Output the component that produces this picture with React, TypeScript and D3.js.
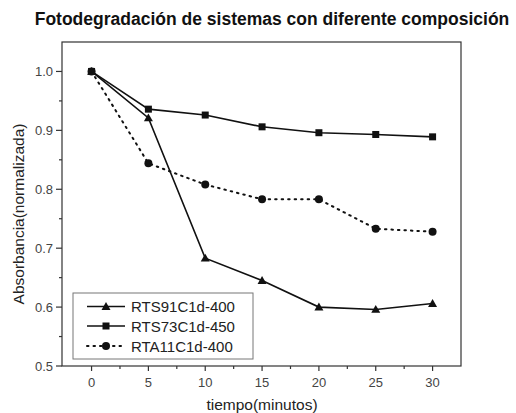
import React from "react";
import * as d3 from "d3";

const times = [0, 5, 10, 15, 20, 25, 30];
const rts91 = [1.0, 0.921, 0.683, 0.645, 0.6, 0.596, 0.606];
const rts73 = [1.0, 0.936, 0.926, 0.906, 0.896, 0.893, 0.889];
const rta11 = [1.0, 0.844, 0.808, 0.783, 0.783, 0.733, 0.728];
const seriesNames = ["RTS91C1d-400", "RTS73C1d-450", "RTA11C1d-400"];
const xTicks = [0, 5, 10, 15, 20, 25, 30];
const yTicks = [0.5, 0.6, 0.7, 0.8, 0.9, 1.0];

const W = 516, H = 413;
const L = 62, R = 461, T = 42, B = 366;

export default function App() {
  const x = d3.scaleLinear().domain([-2.6, 32.5]).range([L, R]);
  const y = d3.scaleLinear().domain([0.5, 1.05]).range([B, T]);
  const line = (vals: number[]) =>
    d3.line<number>().x((_, i) => x(times[i])).y((v) => y(v))(vals) || "";
  const xMinor = d3.range(0, 32.5, 2.5).filter((v) => v % 5 !== 0);
  const yMinor = d3.range(0.55, 1.05, 0.1);
  const font = "'Liberation Sans', Arial, sans-serif";
  const tri = (cx: number, cy: number, s = 4.5) =>
    `M${cx},${cy - s} L${cx + s},${cy + s * 0.75} L${cx - s},${cy + s * 0.75} Z`;
  const series = [
    { vals: rts91, marker: "tri", dash: undefined },
    { vals: rts73, marker: "sq", dash: undefined },
    { vals: rta11, marker: "circ", dash: "1.5,5" },
  ];
  const drawMarker = (m: string, cx: number, cy: number, key: string) => {
    if (m === "tri") return <path key={key} d={tri(cx, cy)} fill="#111" />;
    if (m === "sq") return <rect key={key} x={cx - 3.5} y={cy - 3.5} width={7} height={7} fill="#111" />;
    return <circle key={key} cx={cx} cy={cy} r={4} fill="#111" />;
  };
  const legY = [306.5, 326, 346];
  return (
    <svg width={W} height={H} style={{ position: "absolute", left: 0, top: 0, background: "#fff" }} fontFamily={font}>
      <rect width={W} height={H} fill="#fff" />
      <text x={272} y={25} textAnchor="middle" fontSize={17.5} fontWeight="bold" fill="#111">
        Fotodegradación de sistemas con diferente composición
      </text>
      <rect x={L} y={T} width={R - L} height={B - T} fill="none" stroke="#333" strokeWidth={1.2} />
      {xTicks.map((t) => (
        <g key={"xt" + t}>
          <line x1={x(t)} x2={x(t)} y1={B} y2={B + 5} stroke="#333" strokeWidth={1.2} />
          <text x={x(t)} y={B + 21} textAnchor="middle" fontSize={13} fill="#444">{t}</text>
        </g>
      ))}
      {xMinor.map((t) => (
        <line key={"xm" + t} x1={x(t)} x2={x(t)} y1={B} y2={B + 3} stroke="#333" strokeWidth={1.2} />
      ))}
      {yTicks.map((t) => (
        <g key={"yt" + t}>
          <line x1={L - 6} x2={L} y1={y(t)} y2={y(t)} stroke="#333" strokeWidth={1.2} />
          <text x={L - 9} y={y(t) + 4.5} textAnchor="end" fontSize={13} fill="#444">{t.toFixed(1)}</text>
        </g>
      ))}
      {yMinor.map((t) => (
        <line key={"ym" + t} x1={L - 3} x2={L} y1={y(t)} y2={y(t)} stroke="#333" strokeWidth={1.2} />
      ))}
      <text x={262} y={410} textAnchor="middle" fontSize={15.5} fill="#222">tiempo(minutos)</text>
      <text transform={`translate(24,214) rotate(-90)`} textAnchor="middle" fontSize={15.5} fill="#222">
        Absorbancia(normalizada)
      </text>
      {series.map((s, si) => (
        <g key={"s" + si}>
          <path d={line(s.vals)} fill="none" stroke="#111" strokeWidth={si === 2 ? 2 : 1.6}
            strokeDasharray={s.dash} strokeLinecap={si === 2 ? "round" : "butt"} />
          {s.vals.map((v, i) => drawMarker(s.marker, x(times[i]), y(v), `m${si}-${i}`))}
        </g>
      ))}
      <rect x={73} y={293} width={180} height={66} fill="#fff" stroke="#777" strokeWidth={1} />
      {series.map((s, si) => (
        <g key={"l" + si}>
          <line x1={87} x2={125} y1={legY[si]} y2={legY[si]} stroke="#111" strokeWidth={si === 2 ? 2 : 1.6}
            strokeDasharray={s.dash} strokeLinecap={si === 2 ? "round" : "butt"} />
          {drawMarker(s.marker, 106, legY[si], "lm" + si)}
          <text x={131} y={legY[si] + 5.5} fontSize={15} fill="#222">{seriesNames[si]}</text>
        </g>
      ))}
    </svg>
  );
}
